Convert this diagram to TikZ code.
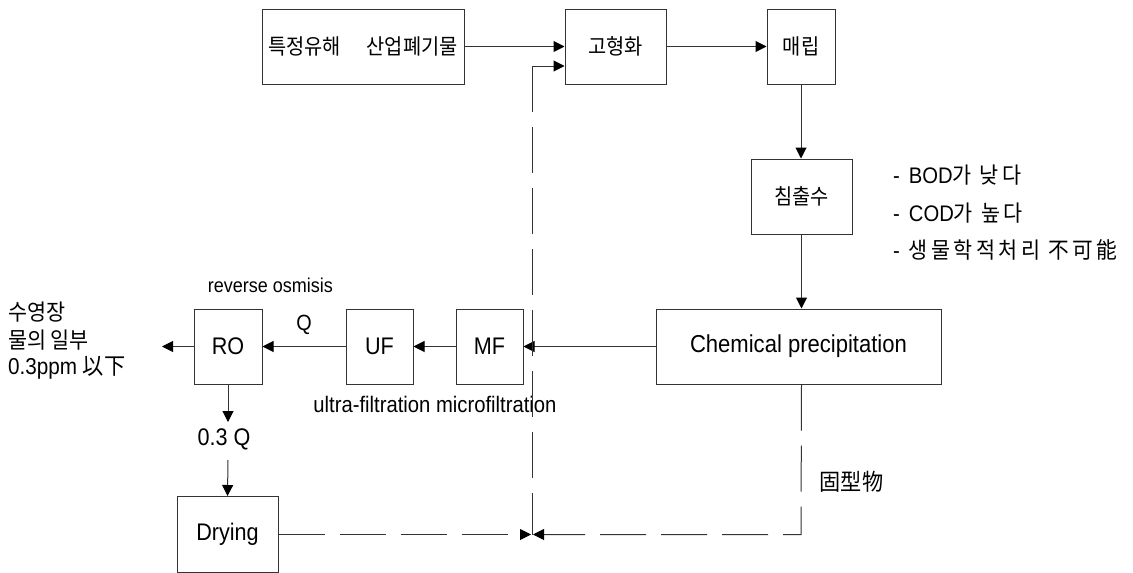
\documentclass[tikz,border=0pt]{standalone}
\usepackage{fontspec}
\setmainfont[FakeStretch=0.9]{Liberation Sans}
\newfontfamily\kr[FakeStretch=0.92]{Noto Sans CJK KR}
\newfontfamily\krn[FakeStretch=0.92,LetterSpace=15]{Noto Sans CJK KR}
\usetikzlibrary{arrows.meta}
\newcommand{\fs}[1]{\fontsize{#1}{#1}\selectfont}
\begin{document}
\begin{tikzpicture}[x=1pt,y=-1pt,
  pbox/.style={draw=black!80, line width=1pt, minimum width=#1, minimum height=75pt, inner sep=0pt, font=\fs{24}},
  pbox/.default=67pt,
  ln/.style={draw=black!80, line width=1pt},
  arr/.style={ln, -{Triangle[length=11pt,width=11pt,color=black]}},
  dsh/.style={dash pattern=on 46pt off 15pt},
  lbl/.style={inner sep=0pt, text=black}]
\useasboundingbox (0,0) rectangle (1133,573);

% boxes
\node[pbox=202pt, font=\fs{21.5}] (waste) at (363,46.5) {\kr 특정유해\hspace{1.2em}산업폐기물};
\node[pbox=101pt, font=\fs{21.5}] (solid) at (615.5,46.5) {\kr 고형화};
\node[pbox=68pt, font=\fs{21.5}] (land) at (801,46.5) {\kr 매립};
\node[pbox=101pt, font=\fs{21.5}] (leach) at (801.5,196.5) {\kr 침출수};
\node[pbox=285pt, font=\fs{24.5}] (chem) at (798.5,346.5) {Chemical precipitation};
\node[pbox=67pt] (mf) at (489.5,346.5) {MF};
\node[pbox=67pt] (uf) at (379.5,346.5) {UF};
\node[pbox=68pt] (ro) at (228,346.5) {RO};
\node[pbox=101pt, minimum height=76pt] (dry) at (227.5,534.5) {Drying};

% coordinates
\coordinate (J) at (532,534.5);
\coordinate (T) at (532,66);
\coordinate (out) at (162,346.5);
\coordinate (roA) at (228,422);
\coordinate (roB) at (228,460);
\coordinate (C) at (801,534.5);

% labels
\node[lbl, font=\fs{20}] (rosm) at (270.5,285) {reverse osmisis};
\node[lbl, font=\fs{22}] (q) at (304,325) {Q};
\node[lbl, font=\fs{22.5}] (ufmf) at (435,404) {ultra-filtration microfiltration};
\node[lbl, font=\fs{24}] (q03) at (224,439) {0.3 Q};
\node[lbl, font=\fs{23}] (solids) at (851.5,482) {\kr 固型物};
\node[lbl, anchor=west, font=\fs{22.5}] (l1) at (8,312) {\kr 수영장};
\node[lbl, anchor=west, font=\fs{22.5}] (l2) at (8,340) {\kr 물의 일부};
\node[lbl, anchor=west, font=\fs{23}] (l3) at (8,368) {0.3ppm {\kr 以下}};
\node[lbl, anchor=west, font=\fs{22.5}] (n1) at (893,175) {-\hspace{0.4em}BOD{\krn 가 낮다}};
\node[lbl, anchor=west, font=\fs{22.5}] (n2) at (893,213) {-\hspace{0.4em}COD{\krn 가 높다}};
\node[lbl, anchor=west, font=\fs{22.5}] (n3) at (893,250) {-\hspace{0.4em}{\krn 생물학적처리 不可能}};

% connectors
\draw[arr] (waste.east) -- (solid.west);
\draw[arr] (solid.east) -- (land.west);
\draw[arr] (land.south) -- (land.south |- leach.north);
\draw[arr] (leach.south) -- (leach.south |- chem.north);
\draw[arr] (chem.west) -- (mf.east);
\draw[arr] (mf.west) -- (uf.east);
\draw[arr] (uf.west) -- (ro.east);
\draw[arr] (ro.west) -- (out);
\draw[arr] (ro.south) -- (roA);
\draw[arr] (roB) -- (dry.north);
\draw[arr, dsh] (dry.east |- J) -- ([xshift=-1pt]J);
\draw[arr, dsh] (leach.south |- chem.south) -- (C) -- ([xshift=1pt]J);
\draw[ln, dsh] (T) -- (J);
\draw[arr] (T) -- (T -| solid.west);
\end{tikzpicture}
\end{document}
